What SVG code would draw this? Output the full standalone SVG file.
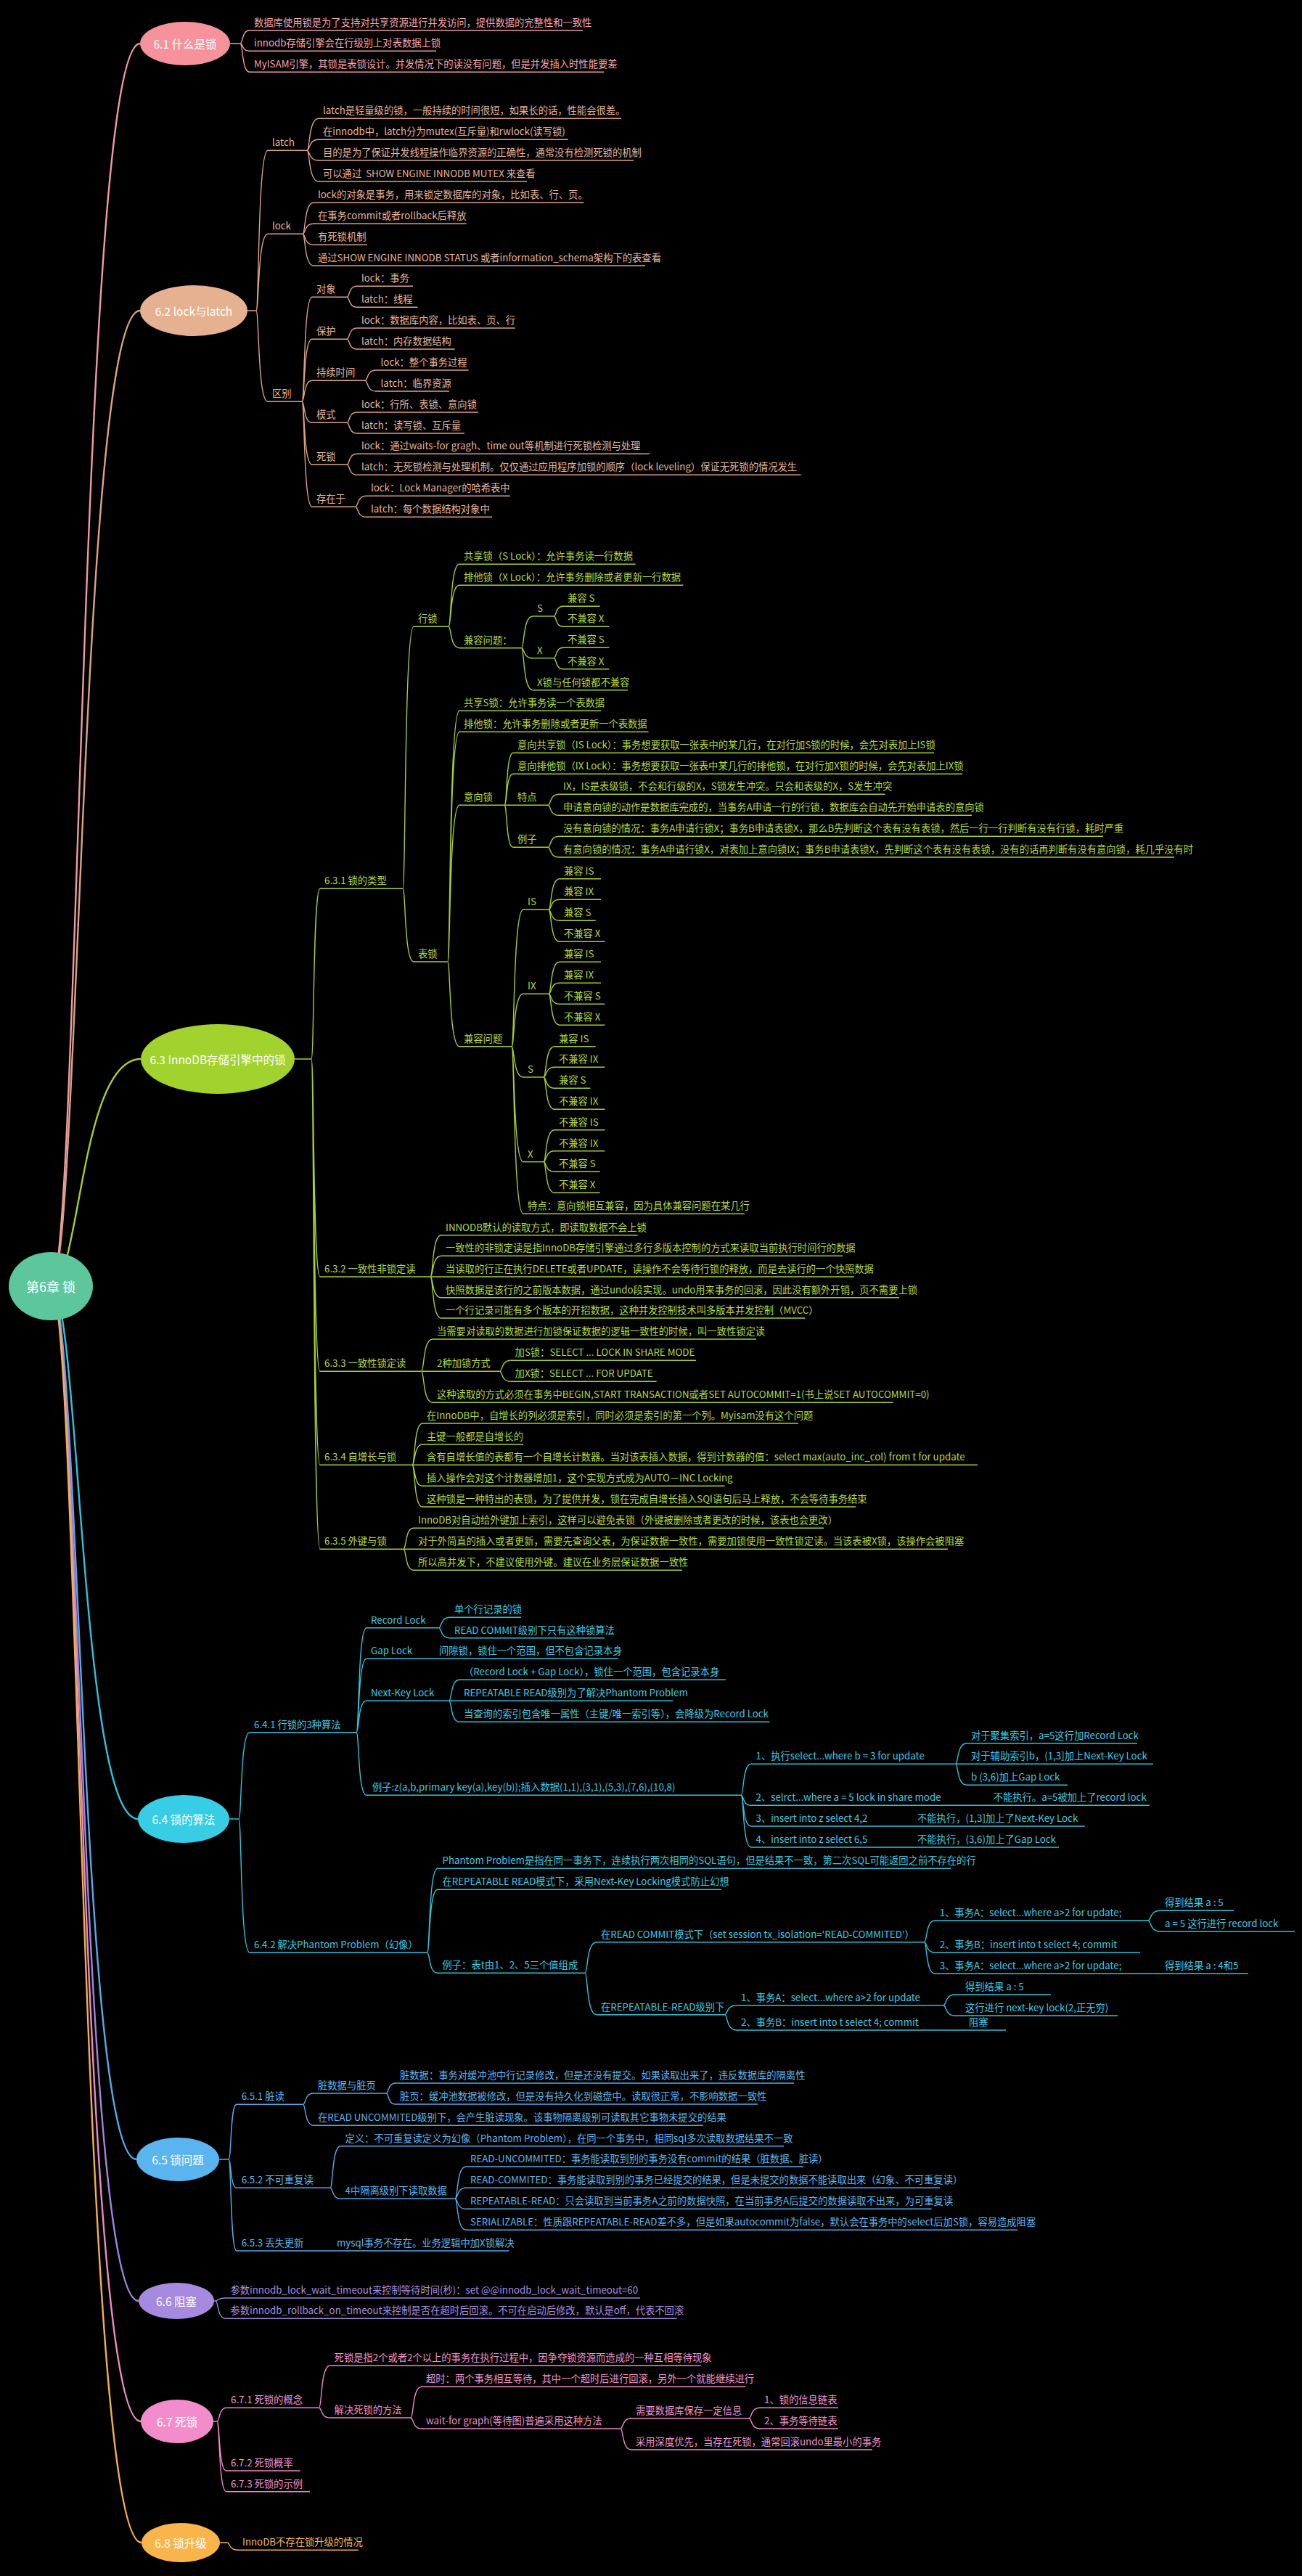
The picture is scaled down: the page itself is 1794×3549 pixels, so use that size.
<svg xmlns="http://www.w3.org/2000/svg" width="1794" height="3549" viewBox="0 0 1794 3549">
<style>
text{font-family:"Noto Sans CJK SC","Noto Sans",sans-serif;font-size:13.3px}
path{fill:none;stroke-width:1.4}
.k0 path{stroke-width:2.4}
.k1 path{stroke:#f29aa3}.k1 text{fill:#f7a4ab}
.k2 path{stroke:#dca383}.k2 text{fill:#e8b597}
.k3 path{stroke:#a5cf2c}.k3 text{fill:#b4da3d}
.k4 path{stroke:#2ec3dd}.k4 text{fill:#3ccbe2}
.k5 path{stroke:#52ade9}.k5 text{fill:#5cb6ef}
.k6 path{stroke:#9f86dc}.k6 text{fill:#a88fe2}
.k7 path{stroke:#ef89c8}.k7 text{fill:#f393cf}
.k8 path{stroke:#f4b044}.k8 text{fill:#f8b84f}
.hub text{fill:#fff;font-size:15.5px;text-anchor:middle;dominant-baseline:central}
.hub .root{font-size:18px}
</style>
<rect width="1794" height="3549" fill="#000"/>

<!-- connectors -->
<g id="connectors">
<g class="k0">
<path d="M70 1772C110 1772 110 60 193 60" stroke="#f29aa3"/>
<path d="M70 1772C110 1772 110 428 193 428" stroke="#dca383"/>
<path d="M70 1772C110 1772 110 1459 194 1459" stroke="#a5cf2c"/>
<path d="M70 1772C110 1772 110 2506 190 2506" stroke="#2ec3dd"/>
<path d="M70 1772C110 1772 110 2975 188 2975" stroke="#52ade9"/>
<path d="M70 1772C110 1772 110 3170 191 3170" stroke="#9f86dc"/>
<path d="M70 1772C110 1772 110 3336 194 3336" stroke="#ef89c8"/>
<path d="M70 1772C110 1772 110 3503 195 3503" stroke="#f4b044"/>
</g>
<g class="k1">
<path d="M317 60H331M331 60C335 60 333 41.7 344 41.7M331 60C335 60 333 70.3 344 70.3M331 60C335 60 333 99.3 344 99.3"/>
</g>
<g class="k2">
<path d="M341 428H353M353 428C357 428 355 207.3 369 207.3M353 428C357 428 355 322.3 369 322.3M353 428C357 428 355 553.3 369 553.3"/>
<path d="M423 207.3C427 207.3 425 163.3 439 163.3M423 207.3C427 207.3 425 192.3 439 192.3M423 207.3C427 207.3 425 221 439 221M423 207.3C427 207.3 425 250 439 250"/>
<path d="M417 322.3C421 322.3 419 279.3 432 279.3M417 322.3C421 322.3 419 308.3 432 308.3M417 322.3C421 322.3 419 337.3 432 337.3M417 322.3C421 322.3 419 366 432 366"/>
<path d="M416 553.3C420 553.3 418 409.3 430 409.3M416 553.3C420 553.3 418 467.3 430 467.3M416 553.3C420 553.3 418 524.3 430 524.3M416 553.3C420 553.3 418 582.3 430 582.3M416 553.3C420 553.3 418 640 430 640M416 553.3C420 553.3 418 698.3 430 698.3"/>
<path d="M478 409.3C482 409.3 480 394.3 492 394.3M478 409.3C482 409.3 480 423.3 492 423.3"/>
<path d="M478 467.3C482 467.3 480 452 492 452M478 467.3C482 467.3 480 481 492 481"/>
<path d="M503 524.3C507 524.3 505 510 518 510M503 524.3C507 524.3 505 539 518 539"/>
<path d="M478 582.3C482 582.3 480 568 492 568M478 582.3C482 582.3 480 597 492 597"/>
<path d="M478 640C482 640 480 625.3 492 625.3M478 640C482 640 480 654.3 492 654.3"/>
<path d="M489.6 698.3C493.6 698.3 491.6 683.3 505 683.3M489.6 698.3C493.6 698.3 491.6 712.3 505 712.3"/>
</g>
<g class="k3">
<path d="M406 1459H429M429 1459C433 1459 431 1224.3 441 1224.3M429 1459C433 1459 431 1759 441 1759M429 1459C433 1459 431 1889.3 441 1889.3M429 1459C433 1459 431 2018.3 441 2018.3M429 1459C433 1459 431 2134.3 441 2134.3"/>
<path d="M555 1224.3C559 1224.3 557 863.3 570 863.3M555 1224.3C559 1224.3 557 1325 570 1325"/>
<path d="M618 863.3C622 863.3 620 777.3 633 777.3M618 863.3C622 863.3 620 806.3 633 806.3M618 863.3C622 863.3 620 892.7 633 892.7"/>
<path d="M718.5 892.7C722.5 892.7 720.5 849 734 849M718.5 892.7C722.5 892.7 720.5 906.7 734 906.7M718.5 892.7C722.5 892.7 720.5 950.7 734 950.7"/>
<path d="M763 849C767 849 765 835.3 776 835.3M763 849C767 849 765 863.3 776 863.3"/>
<path d="M763 906.7C767 906.7 765 892.3 776 892.3M763 906.7C767 906.7 765 921.7 776 921.7"/>
<path d="M616.7 1325C620.7 1325 618.7 979.3 633 979.3M616.7 1325C620.7 1325 618.7 1008.3 633 1008.3M616.7 1325C620.7 1325 618.7 1109.3 633 1109.3M616.7 1325C620.7 1325 618.7 1441.7 633 1441.7"/>
<path d="M695 1109.3C699 1109.3 697 1037.3 707 1037.3M695 1109.3C699 1109.3 697 1066.3 707 1066.3M695 1109.3H707M695 1109.3C699 1109.3 697 1167.3 707 1167.3"/>
<path d="M755 1109.3C759 1109.3 757 1094.3 770 1094.3M755 1109.3C759 1109.3 757 1123.3 770 1123.3"/>
<path d="M755 1167.3C759 1167.3 757 1152.3 770 1152.3M755 1167.3C759 1167.3 757 1181 770 1181"/>
<path d="M705 1441.7C709 1441.7 707 1253.3 721 1253.3M705 1441.7C709 1441.7 707 1369.3 721 1369.3M705 1441.7C709 1441.7 707 1484 721 1484M705 1441.7C709 1441.7 707 1600.7 721 1600.7M705 1441.7C709 1441.7 707 1672.3 721 1672.3"/>
<path d="M756 1253.3C760 1253.3 758 1210.7 771 1210.7M756 1253.3C760 1253.3 758 1239.3 771 1239.3M756 1253.3C760 1253.3 758 1268.3 771 1268.3M756 1253.3C760 1253.3 758 1297.3 771 1297.3"/>
<path d="M756 1369.3C760 1369.3 758 1325.3 771 1325.3M756 1369.3C760 1369.3 758 1354.3 771 1354.3M756 1369.3C760 1369.3 758 1383.3 771 1383.3M756 1369.3C760 1369.3 758 1412.3 771 1412.3"/>
<path d="M749 1484C753 1484 751 1441.7 764 1441.7M749 1484C753 1484 751 1470.3 764 1470.3M749 1484C753 1484 751 1499.3 764 1499.3M749 1484C753 1484 751 1528.3 764 1528.3"/>
<path d="M749 1600.7C753 1600.7 751 1556.7 764 1556.7M749 1600.7C753 1600.7 751 1585.7 764 1585.7M749 1600.7C753 1600.7 751 1614.3 764 1614.3M749 1600.7C753 1600.7 751 1643.3 764 1643.3"/>
<path d="M593 1759C597 1759 595 1701.7 608 1701.7M593 1759C597 1759 595 1730.3 608 1730.3M593 1759H608M593 1759C597 1759 595 1787.7 608 1787.7M593 1759C597 1759 595 1816 608 1816"/>
<path d="M580.6 1889.3C584.6 1889.3 582.6 1845 596 1845M580.6 1889.3H596M580.6 1889.3C584.6 1889.3 582.6 1932.3 596 1932.3"/>
<path d="M688.4 1889.3C692.4 1889.3 690.4 1874.3 703.6 1874.3M688.4 1889.3C692.4 1889.3 690.4 1903.3 703.6 1903.3"/>
<path d="M568 2018.3C572 2018.3 570 1961 582 1961M568 2018.3C572 2018.3 570 1990 582 1990M568 2018.3H582M568 2018.3C572 2018.3 570 2047.3 582 2047.3M568 2018.3C572 2018.3 570 2076 582 2076"/>
<path d="M556 2134.3C560 2134.3 558 2105.3 570 2105.3M556 2134.3H570M556 2134.3C560 2134.3 558 2163.3 570 2163.3"/>
</g>
<g class="k4">
<path d="M316 2506H329M329 2506C333 2506 331 2386.7 344 2386.7M329 2506C333 2506 331 2690 344 2690"/>
<path d="M491 2386.7C495 2386.7 493 2242.7 505 2242.7M491 2386.7C495 2386.7 493 2285.3 505 2285.3M491 2386.7C495 2386.7 493 2343.3 505 2343.3M491 2386.7C495 2386.7 493 2473.3 505 2473.3"/>
<path d="M604.6 2242.7C608.6 2242.7 606.6 2228.3 620 2228.3M604.6 2242.7C608.6 2242.7 606.6 2256.7 620 2256.7"/>
<path d="M618.6 2343.3C622.6 2343.3 620.6 2314.3 633 2314.3M618.6 2343.3H633M618.6 2343.3C622.6 2343.3 620.6 2372.3 633 2372.3"/>
<path d="M1021 2473.3C1025 2473.3 1023 2430.3 1035 2430.3M1021 2473.3C1025 2473.3 1023 2487.3 1035 2487.3M1021 2473.3C1025 2473.3 1023 2516 1035 2516M1021 2473.3C1025 2473.3 1023 2545 1035 2545"/>
<path d="M1316.5 2430.3C1320.5 2430.3 1318.5 2401.7 1332 2401.7M1316.5 2430.3H1332M1316.5 2430.3C1320.5 2430.3 1318.5 2459.3 1332 2459.3"/>
<path d="M588.5 2690C592.5 2690 590.5 2574.3 603 2574.3M588.5 2690C592.5 2690 590.5 2603.3 603 2603.3M588.5 2690C592.5 2690 590.5 2718.3 603 2718.3"/>
<path d="M806 2718.3C810 2718.3 808 2675.7 822 2675.7M806 2718.3C810 2718.3 808 2775.7 822 2775.7"/>
<path d="M1273.5 2675.7C1277.5 2675.7 1275.5 2646 1288 2646M1273.5 2675.7C1277.5 2675.7 1275.5 2690 1288 2690M1273.5 2675.7C1277.5 2675.7 1275.5 2719 1288 2719"/>
<path d="M1582 2646C1586 2646 1584 2632.3 1599 2632.3M1582 2646C1586 2646 1584 2661 1599 2661"/>
<path d="M998.6 2775.7C1002.6 2775.7 1000.6 2762.7 1015 2762.7M998.6 2775.7C1002.6 2775.7 1000.6 2797 1015 2797"/>
<path d="M1300 2762.7C1304 2762.7 1302 2748 1316 2748M1300 2762.7C1304 2762.7 1302 2777 1316 2777"/>
</g>
<g class="k5">
<path d="M302 2975H315M315 2975C319 2975 317 2899.3 326 2899.3M315 2975C319 2975 317 3014.3 326 3014.3M315 2975C319 2975 317 3101 326 3101"/>
<path d="M417.5 2899.3C421.5 2899.3 419.5 2884 432 2884M417.5 2899.3C421.5 2899.3 419.5 2928.3 432 2928.3"/>
<path d="M532 2884C536 2884 534 2870 545 2870M532 2884C536 2884 534 2899 545 2899"/>
<path d="M455 3014.3C459 3014.3 457 2956.7 469.5 2956.7M455 3014.3C459 3014.3 457 3029.3 469.5 3029.3"/>
<path d="M627 3029.3C631 3029.3 629 2985 642 2985M627 3029.3C631 3029.3 629 3014.3 642 3014.3M627 3029.3C631 3029.3 629 3043.3 642 3043.3M627 3029.3C631 3029.3 629 3072.3 642 3072.3"/>
</g>
<g class="k6">
<path d="M294 3170H297M297 3170C301 3170 299 3166 311 3166M297 3170C301 3170 299 3194.3 311 3194.3"/>
</g>
<g class="k7">
<path d="M293 3336H299M299 3336C303 3336 301 3317.3 312 3317.3M299 3336C303 3336 301 3404 312 3404M299 3336C303 3336 301 3432.7 312 3432.7"/>
<path d="M439.6 3317.3C443.6 3317.3 441.6 3259.3 454.6 3259.3M439.6 3317.3C443.6 3317.3 441.6 3331 454.6 3331"/>
<path d="M566 3331C570 3331 568 3288.3 581 3288.3M566 3331C570 3331 568 3346 581 3346"/>
<path d="M855 3346C859 3346 857 3331.7 870 3331.7M855 3346C859 3346 857 3375 870 3375"/>
<path d="M1032 3331.7C1036 3331.7 1034 3317.3 1047 3317.3M1032 3331.7C1036 3331.7 1034 3346 1047 3346"/>
</g>
<g class="k8">
<path d="M302 3503H313M313 3503C317 3503 315 3513.3 328 3513.3"/>
</g>
</g>

<!-- central topic and main branch bubbles -->
<g id="hubs" class="hub">
<g id="root"><ellipse cx="70" cy="1772" rx="58" ry="47" fill="#5cc69c"/><text class="root" x="70" y="1772">第6章 锁</text></g>
<g id="t6-1"><ellipse cx="255" cy="60" rx="62" ry="30" fill="#f5929b"/><text x="255" y="60">6.1 什么是锁</text></g>
<g id="t6-2"><ellipse cx="267" cy="428" rx="74" ry="35" fill="#e5b190"/><text x="267" y="428">6.2 lock与latch</text></g>
<g id="t6-3"><ellipse cx="300" cy="1459" rx="106" ry="48" fill="#a2d22e"/><text x="300" y="1459">6.3 InnoDB存储引擎中的锁</text></g>
<g id="t6-4"><ellipse cx="253" cy="2506" rx="63" ry="33" fill="#37cde5"/><text x="253" y="2506">6.4 锁的算法</text></g>
<g id="t6-5"><ellipse cx="245" cy="2975" rx="57" ry="30" fill="#5ab4ef"/><text x="245" y="2975">6.5 锁问题</text></g>
<g id="t6-6"><ellipse cx="243" cy="3170" rx="52" ry="25" fill="#a68ae0"/><text x="243" y="3170">6.6 阻塞</text></g>
<g id="t6-7"><ellipse cx="244" cy="3336" rx="50" ry="30" fill="#f38ccb"/><text x="244" y="3336">6.7 死锁</text></g>
<g id="t6-8"><ellipse cx="249" cy="3503" rx="54" ry="27" fill="#f9b54b"/><text x="249" y="3503">6.8 锁升级</text></g>
</g>

<!-- 6.1 -->
<g class="k1">
<g id="n1-a"><path d="M344 41.7H803"/><text x="350" y="35.7">数据库使用锁是为了支持对共享资源进行并发访问，提供数据的完整性和一致性</text></g>
<g id="n1-b"><path d="M344 70.3H601"/><text x="350" y="64.3">innodb存储引擎会在行级别上对表数据上锁</text></g>
<g id="n1-c"><path d="M344 99.3H832"/><text x="350" y="93.3">MyISAM引擎，其锁是表锁设计。并发情况下的读没有问题，但是并发插入时性能要差</text></g>
</g>

<!-- 6.2 -->
<g class="k2">
<g id="n2-latch"><path d="M369 207.3H423"/><text x="375" y="201.3">latch</text></g>
<g id="n2-latch-1"><path d="M439 163.3H856"/><text x="445" y="157.3">latch是轻量级的锁，一般持续的时间很短，如果长的话，性能会很差。</text></g>
<g id="n2-latch-2"><path d="M439 192.3H783"/><text x="445" y="186.3">在innodb中，latch分为mutex(互斥量)和rwlock(读写锁)</text></g>
<g id="n2-latch-3"><path d="M439 221H873"/><text x="445" y="215">目的是为了保证并发线程操作临界资源的正确性，通常没有检测死锁的机制</text></g>
<g id="n2-latch-4"><path d="M439 250H726"/><text x="445" y="244">可以通过 &#160;SHOW ENGINE INNODB MUTEX 来查看</text></g>
<g id="n2-lock"><path d="M369 322.3H417"/><text x="375" y="316.3">lock</text></g>
<g id="n2-lock-1"><path d="M432 279.3H804.5"/><text x="438" y="273.3">lock的对象是事务，用来锁定数据库的对象，比如表、行、页。</text></g>
<g id="n2-lock-2"><path d="M432 308.3H642.6"/><text x="438" y="302.3">在事务commit或者rollback后释放</text></g>
<g id="n2-lock-3"><path d="M432 337.3H506"/><text x="438" y="331.3">有死锁机制</text></g>
<g id="n2-lock-4"><path d="M432 366H889"/><text x="438" y="360">通过SHOW ENGINE INNODB STATUS 或者information_schema架构下的表查看</text></g>
<g id="n2-diff"><path d="M369 553.3H416"/><text x="375" y="547.3">区别</text></g>
<g id="n2-obj"><path d="M430 409.3H478"/><text x="436" y="403.3">对象</text></g>
<g id="n2-obj-1"><path d="M492 394.3H569"/><text x="498" y="388.3">lock：事务</text></g>
<g id="n2-obj-2"><path d="M492 423.3H575.6"/><text x="498" y="417.3">latch：线程</text></g>
<g id="n2-prot"><path d="M430 467.3H478"/><text x="436" y="461.3">保护</text></g>
<g id="n2-prot-1"><path d="M492 452H709.6"/><text x="498" y="446">lock：数据库内容，比如表、页、行</text></g>
<g id="n2-prot-2"><path d="M492 481H626.6"/><text x="498" y="475">latch：内存数据结构</text></g>
<g id="n2-dur"><path d="M430 524.3H503"/><text x="436" y="518.3">持续时间</text></g>
<g id="n2-dur-1"><path d="M518 510H645.6"/><text x="524.6" y="504">lock：整个事务过程</text></g>
<g id="n2-dur-2"><path d="M518 539H619"/><text x="524.6" y="533">latch：临界资源</text></g>
<g id="n2-mode"><path d="M430 582.3H478"/><text x="436" y="576.3">模式</text></g>
<g id="n2-mode-1"><path d="M492 568H659"/><text x="498" y="562">lock：行所、表锁、意向锁</text></g>
<g id="n2-mode-2"><path d="M492 597H640"/><text x="498" y="591">latch：读写锁、互斥量</text></g>
<g id="n2-dead"><path d="M430 640H478"/><text x="436" y="634">死锁</text></g>
<g id="n2-dead-1"><path d="M492 625.3H894.7"/><text x="498" y="619.3">lock：通过waits-for gragh、time out等机制进行死锁检测与处理</text></g>
<g id="n2-dead-2"><path d="M492 654.3H1103.5"/><text x="498" y="648.3">latch：无死锁检测与处理机制。仅仅通过应用程序加锁的顺序（lock leveling）保证无死锁的情况发生</text></g>
<g id="n2-in"><path d="M430 698.3H489.6"/><text x="436" y="692.3">存在于</text></g>
<g id="n2-in-1"><path d="M505 683.3H703"/><text x="511" y="677.3">lock：Lock Manager的哈希表中</text></g>
<g id="n2-in-2"><path d="M505 712.3H678"/><text x="511" y="706.3">latch：每个数据结构对象中</text></g>
</g>

<!-- 6.3 -->
<g class="k3">
<g id="n3-1"><path d="M441 1224.3H555"/><text x="447" y="1218.3">6.3.1 锁的类型</text></g>
<g id="n3-row"><path d="M570 863.3H618"/><text x="576" y="857.3">行锁</text></g>
<g id="n3-row-s"><path d="M633 777.3H875.6"/><text x="639" y="771.3">共享锁（S Lock）：允许事务读一行数据</text></g>
<g id="n3-row-x"><path d="M633 806.3H941.4"/><text x="639" y="800.3">排他锁（X Lock）：允许事务删除或者更新一行数据</text></g>
<g id="n3-row-c"><path d="M633 892.7H718.5"/><text x="639" y="886.7">兼容问题：</text></g>
<g id="n3-row-c-s"><path d="M734 849H763"/><text x="740" y="843">S</text></g>
<g id="n3-row-c-s1"><path d="M776 835.3H826.6"/><text x="782" y="829.3">兼容 S</text></g>
<g id="n3-row-c-s2"><path d="M776 863.3H839.4"/><text x="782" y="857.3">不兼容 X</text></g>
<g id="n3-row-c-x"><path d="M734 906.7H763"/><text x="740" y="900.7">X</text></g>
<g id="n3-row-c-x1"><path d="M776 892.3H839.4"/><text x="782" y="886.3">不兼容 S</text></g>
<g id="n3-row-c-x2"><path d="M776 921.7H839.4"/><text x="782" y="915.7">不兼容 X</text></g>
<g id="n3-row-c-n"><path d="M734 950.7H865"/><text x="740" y="944.7">X锁与任何锁都不兼容</text></g>
<g id="n3-tab"><path d="M570 1325H616.7"/><text x="576" y="1319">表锁</text></g>
<g id="n3-tab-s"><path d="M633 979.3H828"/><text x="639" y="973.3">共享S锁：允许事务读一个表数据</text></g>
<g id="n3-tab-x"><path d="M633 1008.3H893.5"/><text x="639" y="1002.3">排他锁：允许事务删除或者更新一个表数据</text></g>
<g id="n3-int"><path d="M633 1109.3H695"/><text x="639" y="1103.3">意向锁</text></g>
<g id="n3-int-is"><path d="M707 1037.3H1287"/><text x="713" y="1031.3">意向共享锁（IS Lock）：事务想要获取一张表中的某几行，在对行加S锁的时候，会先对表加上IS锁</text></g>
<g id="n3-int-ix"><path d="M707 1066.3H1326"/><text x="713" y="1060.3">意向排他锁（IX Lock）：事务想要获取一张表中某几行的排他锁，在对行加X锁的时候，会先对表加上IX锁</text></g>
<g id="n3-int-f"><path d="M707 1109.3H755"/><text x="713" y="1103.3">特点</text></g>
<g id="n3-int-f1"><path d="M770 1094.3H1219.6"/><text x="776" y="1088.3">IX，IS是表级锁，不会和行级的X，S锁发生冲突。只会和表级的X，S发生冲突</text></g>
<g id="n3-int-f2"><path d="M770 1123.3H1339"/><text x="776" y="1117.3">申请意向锁的动作是数据库完成的，当事务A申请一行的行锁，数据库会自动先开始申请表的意向锁</text></g>
<g id="n3-int-e"><path d="M707 1167.3H755"/><text x="713" y="1161.3">例子</text></g>
<g id="n3-int-e1"><path d="M770 1152.3H1520"/><text x="776" y="1146.3">没有意向锁的情况：事务A申请行锁X；事务B申请表锁X，那么B先判断这个表有没有表锁，然后一行一行判断有没有行锁，耗时严重</text></g>
<g id="n3-int-e2"><path d="M770 1181H1618"/><text x="776" y="1175">有意向锁的情况：事务A申请行锁X，对表加上意向锁IX；事务B申请表锁X，先判断这个表有没有表锁，没有的话再判断有没有意向锁，耗几乎没有时</text></g>
<g id="n3-tc"><path d="M633 1441.7H705"/><text x="639" y="1435.7">兼容问题</text></g>
<g id="n3-tc-is"><path d="M721 1253.3H756"/><text x="727" y="1247.3">IS</text></g>
<g id="n3-tc-is1"><path d="M771 1210.7H828"/><text x="777" y="1204.7">兼容 IS</text></g>
<g id="n3-tc-is2"><path d="M771 1239.3H828"/><text x="777" y="1233.3">兼容 IX</text></g>
<g id="n3-tc-is3"><path d="M771 1268.3H820.7"/><text x="777" y="1262.3">兼容 S</text></g>
<g id="n3-tc-is4"><path d="M771 1297.3H833.3"/><text x="777" y="1291.3">不兼容 X</text></g>
<g id="n3-tc-ix"><path d="M721 1369.3H756"/><text x="727" y="1363.3">IX</text></g>
<g id="n3-tc-ix1"><path d="M771 1325.3H828"/><text x="777" y="1319.3">兼容 IS</text></g>
<g id="n3-tc-ix2"><path d="M771 1354.3H828"/><text x="777" y="1348.3">兼容 IX</text></g>
<g id="n3-tc-ix3"><path d="M771 1383.3H833.3"/><text x="777" y="1377.3">不兼容 S</text></g>
<g id="n3-tc-ix4"><path d="M771 1412.3H833.3"/><text x="777" y="1406.3">不兼容 X</text></g>
<g id="n3-tc-s"><path d="M721 1484H749"/><text x="727" y="1478">S</text></g>
<g id="n3-tc-s1"><path d="M764 1441.7H820.7"/><text x="770" y="1435.7">兼容 IS</text></g>
<g id="n3-tc-s2"><path d="M764 1470.3H833.3"/><text x="770" y="1464.3">不兼容 IX</text></g>
<g id="n3-tc-s3"><path d="M764 1499.3H813.3"/><text x="770" y="1493.3">兼容 S</text></g>
<g id="n3-tc-s4"><path d="M764 1528.3H833.3"/><text x="770" y="1522.3">不兼容 IX</text></g>
<g id="n3-tc-x"><path d="M721 1600.7H749"/><text x="727" y="1594.7">X</text></g>
<g id="n3-tc-x1"><path d="M764 1556.7H833.3"/><text x="770" y="1550.7">不兼容 IS</text></g>
<g id="n3-tc-x2"><path d="M764 1585.7H833.3"/><text x="770" y="1579.7">不兼容 IX</text></g>
<g id="n3-tc-x3"><path d="M764 1614.3H826.7"/><text x="770" y="1608.3">不兼容 S</text></g>
<g id="n3-tc-x4"><path d="M764 1643.3H826.7"/><text x="770" y="1637.3">不兼容 X</text></g>
<g id="n3-tc-f"><path d="M721 1672.3H1026"/><text x="727" y="1666.3">特点：意向锁相互兼容，因为具体兼容问题在某几行</text></g>
<g id="n3-2"><path d="M441 1759H593"/><text x="447" y="1753">6.3.2 一致性非锁定读</text></g>
<g id="n3-2-1"><path d="M608 1701.7H878.7"/><text x="614" y="1695.7">INNODB默认的读取方式，即读取数据不会上锁</text></g>
<g id="n3-2-2"><path d="M608 1730.3H1161"/><text x="614" y="1724.3">一致性的非锁定读是指InnoDB存储引擎通过多行多版本控制的方式来读取当前执行时间行的数据</text></g>
<g id="n3-2-3"><path d="M608 1759H1177"/><text x="614" y="1753">当读取的行正在执行DELETE或者UPDATE，读操作不会等待行锁的释放，而是去读行的一个快照数据</text></g>
<g id="n3-2-4"><path d="M608 1787.7H1239"/><text x="614" y="1781.7">快照数据是该行的之前版本数据，通过undo段实现。undo用来事务的回滚，因此没有额外开销，页不需要上锁</text></g>
<g id="n3-2-5"><path d="M608 1816H1109.5"/><text x="614" y="1810">一个行记录可能有多个版本的开招数据，这种并发控制技术叫多版本并发控制（MVCC）</text></g>
<g id="n3-3"><path d="M441 1889.3H580.6"/><text x="447" y="1883.3">6.3.3 一致性锁定读</text></g>
<g id="n3-3-1"><path d="M596 1845H1042"/><text x="602" y="1839">当需要对读取的数据进行加锁保证数据的逻辑一致性的时候，叫一致性锁定读</text></g>
<g id="n3-3-2"><path d="M596 1889.3H688.4"/><text x="602" y="1883.3">2种加锁方式</text></g>
<g id="n3-3-2a"><path d="M703.6 1874.3H959"/><text x="709.6" y="1868.3">加S锁：SELECT ... LOCK IN SHARE MODE</text></g>
<g id="n3-3-2b"><path d="M703.6 1903.3H904.7"/><text x="709.6" y="1897.3">加X锁：SELECT ... FOR UPDATE</text></g>
<g id="n3-3-3"><path d="M596 1932.3H1230.7"/><text x="602" y="1926.3">这种读取的方式必须在事务中BEGIN,START TRANSACTION或者SET AUTOCOMMIT=1(书上说SET AUTOCOMMIT=0)</text></g>
<g id="n3-4"><path d="M441 2018.3H568"/><text x="447" y="2012.3">6.3.4 自增长与锁</text></g>
<g id="n3-4-1"><path d="M582 1961H1100"/><text x="588" y="1955">在InnoDB中，自增长的列必须是索引，同时必须是索引的第一个列。Myisam没有这个问题</text></g>
<g id="n3-4-2"><path d="M582 1990H721"/><text x="588" y="1984">主键一般都是自增长的</text></g>
<g id="n3-4-3"><path d="M582 2018.3H1347"/><text x="588" y="2012.3">含有自增长值的表都有一个自增长计数器。当对该表插入数据，得到计数器的值：select max(auto_inc_col) from t for update</text></g>
<g id="n3-4-4"><path d="M582 2047.3H998.6"/><text x="588" y="2041.3">插入操作会对这个计数器增加1，这个实现方式成为AUTO－INC Locking</text></g>
<g id="n3-4-5"><path d="M582 2076H1179"/><text x="588" y="2070">这种锁是一种特出的表锁，为了提供并发，锁在完成自增长插入SQl语句后马上释放，不会等待事务结束</text></g>
<g id="n3-5"><path d="M441 2134.3H556"/><text x="447" y="2128.3">6.3.5 外键与锁</text></g>
<g id="n3-5-1"><path d="M570 2105.3H1135"/><text x="576" y="2099.3">InnoDB对自动给外键加上索引，这样可以避免表锁（外键被删除或者更改的时候，该表也会更改）</text></g>
<g id="n3-5-2"><path d="M570 2134.3H1306"/><text x="576" y="2128.3">对于外简直的插入或者更新，需要先查询父表，为保证数据一致性，需要加锁使用一致性锁定读。当该表被X锁，该操作会被阻塞</text></g>
<g id="n3-5-3"><path d="M570 2163.3H940"/><text x="576" y="2157.3">所以高并发下，不建议使用外键。建议在业务层保证数据一致性</text></g>
</g>

<!-- 6.4 -->
<g class="k4">
<g id="n4-1"><path d="M344 2386.7H491"/><text x="350" y="2380.7">6.4.1 行锁的3种算法</text></g>
<g id="n4-rec"><path d="M505 2242.7H604.6"/><text x="511" y="2236.7">Record Lock</text></g>
<g id="n4-rec-1"><path d="M620 2228.3H718"/><text x="626" y="2222.3">单个行记录的锁</text></g>
<g id="n4-rec-2"><path d="M620 2256.7H833"/><text x="626" y="2250.7">READ COMMIT级别下只有这种锁算法</text></g>
<g id="n4-gap"><path d="M505 2285.3H595"/><text x="511" y="2279.3">Gap Lock</text></g>
<g id="n4-gap-1"><path d="M595 2285.3H851.6"/><text x="605" y="2279.3">间隙锁，锁住一个范围，但不包含记录本身</text></g>
<g id="n4-nk"><path d="M505 2343.3H618.6"/><text x="511" y="2337.3">Next-Key Lock</text></g>
<g id="n4-nk-1"><path d="M633 2314.3H1000"/><text x="639" y="2308.3">（Record Lock + Gap Lock），锁住一个范围，包含记录本身</text></g>
<g id="n4-nk-2"><path d="M633 2343.3H927"/><text x="639" y="2337.3">REPEATABLE READ级别为了解决Phantom Problem</text></g>
<g id="n4-nk-3"><path d="M633 2372.3H1060.6"/><text x="639" y="2366.3">当查询的索引包含唯一属性（主键/唯一索引等），会降级为Record Lock</text></g>
<g id="n4-ex"><path d="M505 2473.3H1021"/><text x="513" y="2467.3">例子:z(a,b,primary key(a),key(b));插入数据(1,1),(3,1),(5,3),(7,6),(10,8)</text></g>
<g id="n4-ex-1"><path d="M1035 2430.3H1316.5"/><text x="1041.5" y="2424.3">1、执行select...where b = 3 for update</text></g>
<g id="n4-ex-1a"><path d="M1332 2401.7H1567"/><text x="1338" y="2395.7">对于聚集索引，a=5这行加Record Lock</text></g>
<g id="n4-ex-1b"><path d="M1332 2430.3H1589"/><text x="1338" y="2424.3">对于辅助索引b，(1,3]加上Next-Key Lock</text></g>
<g id="n4-ex-1c"><path d="M1332 2459.3H1471"/><text x="1338" y="2453.3">b (3,6)加上Gap Lock</text></g>
<g id="n4-ex-2"><path d="M1035 2487.3H1349"/><text x="1041.5" y="2481.3">2、selrct...where a = 5 lock in share mode</text></g>
<g id="n4-ex-2a"><path d="M1349 2487.3H1584"/><text x="1368.7" y="2481.3">不能执行。a=5被加上了record lock</text></g>
<g id="n4-ex-3"><path d="M1035 2516H1243"/><text x="1041.5" y="2510">3、insert into z select 4,2</text></g>
<g id="n4-ex-3a"><path d="M1243 2516H1494.7"/><text x="1264" y="2510">不能执行，(1,3]加上了Next-Key Lock</text></g>
<g id="n4-ex-4"><path d="M1035 2545H1243"/><text x="1041.5" y="2539">4、insert into z select 6,5</text></g>
<g id="n4-ex-4a"><path d="M1243 2545H1459"/><text x="1264" y="2539">不能执行，(3,6)加上了Gap Lock</text></g>
<g id="n4-2"><path d="M344 2690H588.5"/><text x="350" y="2684">6.4.2 解决Phantom Problem（幻像）</text></g>
<g id="n4-2-1"><path d="M603 2574.3H1310.4"/><text x="609.5" y="2568.3">Phantom Problem是指在同一事务下，连续执行两次相同的SQL语句，但是结果不一致，第二次SQL可能返回之前不存在的行</text></g>
<g id="n4-2-2"><path d="M603 2603.3H994"/><text x="609.5" y="2597.3">在REPEATABLE READ模式下，采用Next-Key Locking模式防止幻想</text></g>
<g id="n4-2-3"><path d="M603 2718.3H806"/><text x="609.5" y="2712.3">例子：表t由1、2、5三个值组成</text></g>
<g id="n4-rc"><path d="M822 2675.7H1273.5"/><text x="828" y="2669.7">在READ COMMIT模式下（set session tx_isolation='READ-COMMITED'）</text></g>
<g id="n4-rc-1"><path d="M1288 2646H1582"/><text x="1294.7" y="2640">1、事务A：select...where a&gt;2 for update;</text></g>
<g id="n4-rc-1a"><path d="M1599 2632.3H1700"/><text x="1605" y="2626.3">得到结果 a : 5</text></g>
<g id="n4-rc-1b"><path d="M1599 2661H1784"/><text x="1605" y="2655">a = 5 这行进行 record lock</text></g>
<g id="n4-rc-2"><path d="M1288 2690H1571"/><text x="1294.7" y="2684">2、事务B：insert into t select 4; commit</text></g>
<g id="n4-rc-3"><path d="M1288 2719H1582"/><text x="1294.7" y="2713">3、事务A：select...where a&gt;2 for update;</text></g>
<g id="n4-rc-3a"><path d="M1582 2719H1720"/><text x="1605" y="2713">得到结果 a : 4和5</text></g>
<g id="n4-rr"><path d="M822 2775.7H998.6"/><text x="828" y="2769.7">在REPEATABLE-READ级别下</text></g>
<g id="n4-rr-1"><path d="M1015 2762.7H1300"/><text x="1021" y="2756.7">1、事务A：select...where a&gt;2 for update</text></g>
<g id="n4-rr-1a"><path d="M1316 2748H1448"/><text x="1330" y="2742">得到结果 a : 5</text></g>
<g id="n4-rr-1b"><path d="M1316 2777H1540"/><text x="1330" y="2771">这行进行 next-key lock(2,正无穷)</text></g>
<g id="n4-rr-2"><path d="M1015 2797H1310"/><text x="1021" y="2791">2、事务B：insert into t select 4; commit</text></g>
<g id="n4-rr-2a"><path d="M1310 2797H1386"/><text x="1335" y="2791">阻塞</text></g>
</g>

<!-- 6.5 -->
<g class="k5">
<g id="n5-1"><path d="M326 2899.3H417.5"/><text x="332.7" y="2893.3">6.5.1 脏读</text></g>
<g id="n5-1a"><path d="M432 2884H532"/><text x="438" y="2878">脏数据与脏页</text></g>
<g id="n5-1a1"><path d="M545 2870H1094"/><text x="551" y="2864">脏数据：事务对缓冲池中行记录修改，但是还没有提交。如果读取出来了，违反数据库的隔离性</text></g>
<g id="n5-1a2"><path d="M545 2899H1044"/><text x="551" y="2893">脏页：缓冲池数据被修改，但是没有持久化到磁盘中。读取很正常，不影响数据一致性</text></g>
<g id="n5-1b"><path d="M432 2928.3H969"/><text x="438" y="2922.3">在READ UNCOMMITED级别下，会产生脏读现象。该事物隔离级别可读取其它事物未提交的结果</text></g>
<g id="n5-2"><path d="M326 3014.3H455"/><text x="332.7" y="3008.3">6.5.2 不可重复读</text></g>
<g id="n5-2a"><path d="M469.5 2956.7H1080"/><text x="475.5" y="2950.7">定义：不可重复读定义为幻像（Phantom Problem），在同一个事务中，相同sql多次读取数据结果不一致</text></g>
<g id="n5-2b"><path d="M469.5 3029.3H627"/><text x="475.5" y="3023.3">4中隔离级别下读取数据</text></g>
<g id="n5-2b1"><path d="M642 2985H1107"/><text x="648" y="2979">READ-UNCOMMITED：事务能读取到别的事务没有commit的结果（脏数据、脏读）</text></g>
<g id="n5-2b2"><path d="M642 3014.3H1295"/><text x="648" y="3008.3">READ-COMMITED：事务能读取到别的事务已经提交的结果，但是未提交的数据不能读取出来（幻象、不可重复读）</text></g>
<g id="n5-2b3"><path d="M642 3043.3H1283.6"/><text x="648" y="3037.3">REPEATABLE-READ：只会读取到当前事务A之前的数据快照，在当前事务A后提交的数据读取不出来，为可重复读</text></g>
<g id="n5-2b4"><path d="M642 3072.3H1402"/><text x="648" y="3066.3">SERIALIZABLE：性质跟REPEATABLE-READ差不多，但是如果autocommit为false，默认会在事务中的select后加S锁，容易造成阻塞</text></g>
<g id="n5-3"><path d="M326 3101H444"/><text x="332.7" y="3095">6.5.3 丢失更新</text></g>
<g id="n5-3a"><path d="M444 3101H701.5"/><text x="464" y="3095">mysql事务不存在。业务逻辑中加X锁解决</text></g>
</g>

<!-- 6.6 -->
<g class="k6">
<g id="n6-1"><path d="M311 3166H882"/><text x="317.5" y="3160">参数innodb_lock_wait_timeout来控制等待时间(秒)：set @@innodb_lock_wait_timeout=60</text></g>
<g id="n6-2"><path d="M311 3194.3H932.7"/><text x="317.5" y="3188.3">参数innodb_rollback_on_timeout来控制是否在超时后回滚。不可在启动后修改，默认是off，代表不回滚</text></g>
</g>

<!-- 6.7 -->
<g class="k7">
<g id="n7-1"><path d="M312 3317.3H439.6"/><text x="318" y="3311.3">6.7.1 死锁的概念</text></g>
<g id="n7-1a"><path d="M454.6 3259.3H965.7"/><text x="460.6" y="3253.3">死锁是指2个或者2个以上的事务在执行过程中，因争夺锁资源而造成的一种互相等待现象</text></g>
<g id="n7-1b"><path d="M454.6 3331H566"/><text x="460.6" y="3325">解决死锁的方法</text></g>
<g id="n7-1b1"><path d="M581 3288.3H1027"/><text x="587" y="3282.3">超时：两个事务相互等待，其中一个超时后进行回滚，另外一个就能继续进行</text></g>
<g id="n7-1b2"><path d="M581 3346H855"/><text x="587" y="3340">wait-for graph(等待图)普遍采用这种方法</text></g>
<g id="n7-1b2a"><path d="M870 3331.7H1032"/><text x="876" y="3325.7">需要数据库保存一定信息</text></g>
<g id="n7-1b2a1"><path d="M1047 3317.3H1155"/><text x="1053" y="3311.3">1、锁的信息链表</text></g>
<g id="n7-1b2a2"><path d="M1047 3346H1155"/><text x="1053" y="3340">2、事务等待链表</text></g>
<g id="n7-1b2b"><path d="M870 3375H1202"/><text x="876" y="3369">采用深度优先，当存在死锁，通常回滚undo里最小的事务</text></g>
<g id="n7-2"><path d="M312 3404H413.6"/><text x="318" y="3398">6.7.2 死锁概率</text></g>
<g id="n7-3"><path d="M312 3432.7H427"/><text x="318" y="3426.7">6.7.3 死锁的示例</text></g>
</g>

<!-- 6.8 -->
<g class="k8">
<g id="n8-1"><path d="M328 3513.3H494"/><text x="334" y="3507.3">InnoDB不存在锁升级的情况</text></g>
</g>
</svg>
